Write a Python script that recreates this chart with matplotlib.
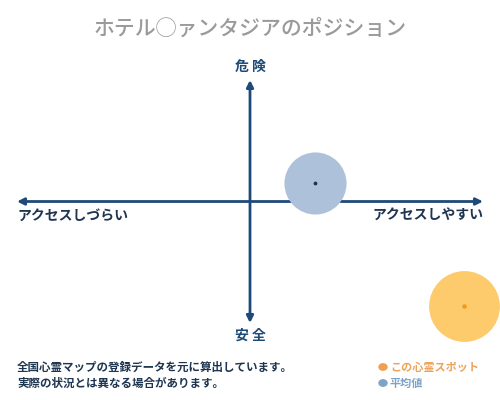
import matplotlib
matplotlib.use("Agg")
import matplotlib.pyplot as plt

plt.rcParams['font.family'] = ['Noto Sans CJK JP', 'DejaVu Sans']

title = "ホテル◯ァンタジアのポジション"
x_labels = ["アクセスしづらい", "アクセスしやすい"]
y_labels = ["安 全", "危 険"]
series_names = ["この心霊スポット", "平均値"]
# positions on a -1..1 scale (x: access, y: danger)
spot_xy = [0.92, -0.86]
avg_xy = [0.28, 0.15]
notes = ["全国心霊マップの登録データを元に算出しています。",
         "実際の状況とは異なる場合があります。"]

navy = "#1d4a78"
fig = plt.figure(figsize=(5, 4), dpi=100)
fig.patch.set_facecolor("white")

# axes spanning the arrows' extents
ax = fig.add_axes([17/500, (400-323)/400, (483-17)/500, (323-80)/400])
ax.set_xlim(-1, 1)
ax.set_ylim(-1, 1)
ax.axis("off")

# arrows
ax.annotate("", xy=(1, 0), xytext=(-1, 0), xycoords="data",
            arrowprops=dict(arrowstyle="<|-|>", color=navy, lw=2, mutation_scale=10,
                            shrinkA=0, shrinkB=0))
ax.annotate("", xy=(0, 1), xytext=(0, -1), xycoords="data",
            arrowprops=dict(arrowstyle="<|-|>", color=navy, lw=2, mutation_scale=10,
                            shrinkA=0, shrinkB=0))

# bubbles
ax.scatter([avg_xy[0]], [avg_xy[1]], s=2000, color="#adc1da", zorder=3, clip_on=False, lw=0)
ax.scatter([avg_xy[0]], [avg_xy[1]], s=3, color="#1d3550", zorder=4, clip_on=False)
ax.scatter([spot_xy[0]], [spot_xy[1]], s=2600, color="#fdca6c", zorder=3, clip_on=False, lw=0)
ax.scatter([spot_xy[0]], [spot_xy[1]], s=5, color="#f29a1f", zorder=4, clip_on=False)

# texts in figure pixel coordinates
def ftxt(x, y, s, **kw):
    fig.text(x/500, 1 - y/400, s, **kw)

ftxt(250, 29, title, ha="center", va="center", fontsize=15, color="#9a9a9a", fontweight="medium")
ftxt(250, 67, y_labels[1], ha="center", va="center", fontsize=10, color=navy, fontweight="bold")
ftxt(250, 336, y_labels[0], ha="center", va="center", fontsize=10, color=navy, fontweight="bold")
ftxt(17, 216, x_labels[0], ha="left", va="center", fontsize=10, color="#1d3550", fontweight="bold")
ftxt(483, 216, x_labels[1], ha="right", va="center", fontsize=10, color="#1d3550", fontweight="bold")

ftxt(17, 367, notes[0], ha="left", va="center", fontsize=8.3, color="#1d3550", fontweight="bold")
ftxt(17, 383, notes[1], ha="left", va="center", fontsize=8.3, color="#1d3550", fontweight="bold")

fig.add_artist(plt.Circle((383/500, 1 - 367/400), 4/500, transform=fig.transFigure,
                          color="#f0a050"))
fig.add_artist(plt.Circle((383/500, 1 - 383/400), 4/500, transform=fig.transFigure,
                          color="#7fa3c8"))
ftxt(390, 367, series_names[0], ha="left", va="center", fontsize=8, color="#eca35a", fontweight="bold")
ftxt(390, 383, series_names[1], ha="left", va="center", fontsize=8, color="#7fa3c8", fontweight="bold")

fig.savefig("out.png", dpi=100, facecolor="white")
